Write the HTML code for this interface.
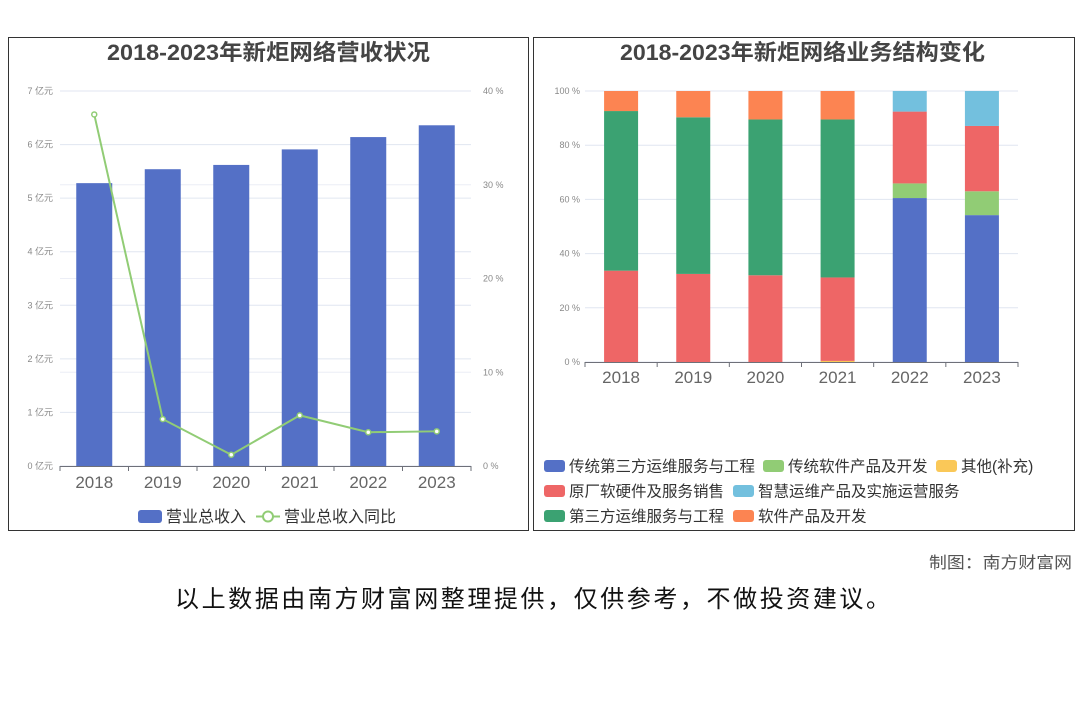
<!DOCTYPE html>
<html><head><meta charset="utf-8">
<style>
body{margin:0;width:1080px;height:720px;background:#fff;overflow:hidden;font-family:"Liberation Sans","Noto Sans CJK SC",sans-serif;}
svg{position:absolute;left:0;top:0}
</style></head>
<body>
<svg id="s" width="1080" height="720" xmlns="http://www.w3.org/2000/svg">
<rect x="8.5" y="37.5" width="520" height="493" fill="none" stroke="#333" stroke-width="1"/>
<rect x="533.5" y="37.5" width="541" height="493" fill="none" stroke="#333" stroke-width="1"/>
<text x="107" y="60" textLength="323" lengthAdjust="spacingAndGlyphs" font-size="22" font-weight="bold" fill="#444">2018-2023年新炬网络营收状况</text>
<text x="620" y="60" textLength="365" lengthAdjust="spacingAndGlyphs" font-size="22" font-weight="bold" fill="#444">2018-2023年新炬网络业务结构变化</text>
<text x="929" y="568" textLength="143" lengthAdjust="spacingAndGlyphs" font-size="16" fill="#555">制图：南方财富网</text>
<text x="175" y="607" textLength="715" lengthAdjust="spacing" font-size="24" fill="#111">以上数据由南方财富网整理提供，仅供参考，不做投资建议。</text>
<g id="left"></g><g id="right"></g>
</svg>
<script>
const years=['2018','2019','2020','2021','2022','2023'];
const revenue=[5.28,5.54,5.62,5.91,6.14,6.36];
const growth=[37.5,5.0,1.2,5.4,3.6,3.7];
const leftTicks=[0,1,2,3,4,5,6,7];
const rightTicks=[0,10,20,30,40];
const segNames=['传统第三方运维服务与工程','传统软件产品及开发','其他(补充)','原厂软硬件及服务销售','智慧运维产品及实施运营服务','第三方运维服务与工程','软件产品及开发'];
const segColors=['#5470c6','#91cc75','#fac858','#ee6666','#73c0de','#3ba272','#fc8452'];
const segBlue=[0,0,0,0,60.5,54.2];
const segLgreen=[0,0,0,0,5.4,8.8];
const segYellow=[0,0,0,0.4,0,0];
const segRed=[33.7,32.5,32,30.8,26.5,24.1];
const segCyan=[0,0,0,0,7.6,12.9];
const segDgreen=[58.9,57.8,57.5,58.3,0,0];
const segOrange=[7.4,9.7,10.5,10.5,0,0];
const pctTicks=[0,20,40,60,80,100];
const NS='http://www.w3.org/2000/svg';
function mk(p,t,a,txt){const e=document.createElementNS(NS,t);for(const k in a)e.setAttribute(k,a[k]);if(txt!=null)e.textContent=txt;p.appendChild(e);return e;}
// left chart
const L=document.getElementById('left');
const lx0=60,lx1=471,ly0=466,ly1=91;
const lcw=(lx1-lx0)/years.length;
const yL=v=>ly0-(v/7)*(ly0-ly1);
const yR=v=>ly0-(v/40)*(ly0-ly1);
const xL=i=>lx0+lcw*(i+0.5);
rightTicks.forEach(t=>{const g=mk(L,'line',{x1:lx0,x2:lx1,y1:yR(t),y2:yR(t),stroke:'#eceef6'});

const tx=mk(L,'text',{x:483,y:yR(t)+3,'font-size':9,fill:'#888'},t+' %');
});
leftTicks.forEach(t=>{const g=mk(L,'line',{x1:lx0,x2:lx1,y1:yL(t),y2:yL(t),stroke:'#e0e6f1'});

const tx=mk(L,'text',{x:53,y:yL(t)+3,'font-size':9,fill:'#888','text-anchor':'end'},t+' 亿元');
});
revenue.forEach((v,i)=>{const b=mk(L,'rect',{x:xL(i)-18,y:yL(v),width:36,height:ly0-yL(v),fill:'#5470c6'});
});
const ax=mk(L,'line',{x1:lx0,x2:lx1,y1:ly0+0.5,y2:ly0+0.5,stroke:'#6e7079'});

years.forEach((y,i)=>{mk(L,'line',{x1:lx0+lcw*i,x2:lx0+lcw*i,y1:ly0,y2:ly0+5,stroke:'#6e7079'});
const t=mk(L,'text',{x:xL(i),y:488,'text-anchor':'middle','font-size':17,fill:'#666'},y);
});
mk(L,'line',{x1:lx1,x2:lx1,y1:ly0,y2:ly0+5,stroke:'#6e7079'});
const pl=mk(L,'polyline',{points:growth.map((v,i)=>xL(i)+','+yR(v)).join(' '),fill:'none',stroke:'#91cc75','stroke-width':2});

growth.forEach((v,i)=>{const c=mk(L,'circle',{cx:xL(i),cy:yR(v),r:2.5,fill:'#fff',stroke:'#91cc75','stroke-width':1.5});
});
// left legend
const lg1=mk(L,'rect',{x:138,y:510,width:24,height:13,rx:3,fill:'#5470c6'});

const lt1=mk(L,'text',{x:166,y:522,'font-size':16,fill:'#333'},'营业总收入');

mk(L,'line',{x1:256,x2:280,y1:516.5,y2:516.5,stroke:'#91cc75','stroke-width':2});
mk(L,'circle',{cx:268,cy:516.5,r:5,fill:'#fff',stroke:'#91cc75','stroke-width':2});
const lt2=mk(L,'text',{x:284,y:522,'font-size':16,fill:'#333'},'营业总收入同比');

// right chart
const R=document.getElementById('right');
const rx0=585,rx1=1018,ry0=362,ry1=91;
const rcw=(rx1-rx0)/years.length;
const yP=v=>ry0-(v/100)*(ry0-ry1);
const xP=i=>rx0+rcw*(i+0.5);
pctTicks.forEach(t=>{const g=mk(R,'line',{x1:rx0,x2:rx1,y1:yP(t),y2:yP(t),stroke:'#e0e6f1'});

const tx=mk(R,'text',{x:580,y:yP(t)+3,'font-size':9,fill:'#888','text-anchor':'end'},t+' %');
});
const series=[segBlue,segLgreen,segYellow,segRed,segCyan,segDgreen,segOrange];
years.forEach((y,i)=>{let acc=0;series.forEach((s,k)=>{const v=s[i];if(v>0){const r=mk(R,'rect',{x:xP(i)-17,y:yP(acc+v),width:34,height:yP(acc)-yP(acc+v),fill:segColors[k]});
}acc+=v;});});
const ax2=mk(R,'line',{x1:rx0,x2:rx1,y1:ry0+0.5,y2:ry0+0.5,stroke:'#6e7079'});

years.forEach((y,i)=>{mk(R,'line',{x1:rx0+rcw*i,x2:rx0+rcw*i,y1:ry0,y2:ry0+5,stroke:'#6e7079'});
const t=mk(R,'text',{x:xP(i),y:383,'text-anchor':'middle','font-size':17,fill:'#666'},y);
});
mk(R,'line',{x1:rx1,x2:rx1,y1:ry0,y2:ry0+5,stroke:'#6e7079'});
const legPos=[[544,466],[763,466],[936,466],[544,491],[733,491],[544,516],[733,516]];
segNames.forEach((n,k)=>{const [x,y]=legPos[k];
const sw=mk(R,'rect',{x:x,y:y-6,width:21,height:12,rx:3,fill:segColors[k]});

const t=mk(R,'text',{x:x+25,y:y+5.5,'font-size':15.5,fill:'#333'},n);
});
</script>
</body></html>
